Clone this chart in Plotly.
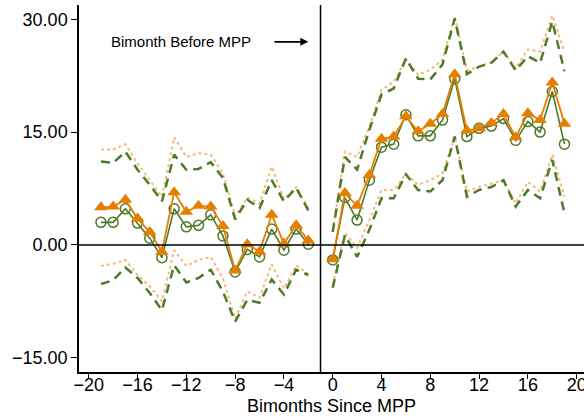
import plotly.graph_objects as go

# Bimonths relative to the MPP (the reference bimonth -1 is omitted)
bimonths = list(range(-19, 20))

# Estimates: green series (hollow circles) and its confidence band
est_green = [3.0, 3.0, 4.8, 2.9, 0.9, -1.7, 4.8, 2.4, 2.6, 4.0, 1.2, -3.6, -0.6, -1.6, 2.1, -0.7, 2.1, 0.1, None,
             -2.0, 6.3, 3.3, 8.6, 13.0, 13.4, 17.3, 14.5, 14.5, 16.6, 22.1, 14.4, 15.5, 15.8, 16.8, 13.9, 16.4, 15.0, 20.4, 13.4]
hi_green = [11.1, 10.9, 12.4, 10.0, 8.0, 5.8, 12.0, 10.0, 10.1, 11.0, 8.9, 3.4, 6.0, 4.9, 8.6, 5.8, 7.6, 4.6, None,
            1.7, 11.7, 10.0, 15.3, 20.0, 20.8, 24.8, 22.1, 22.0, 24.0, 30.1, 22.7, 23.7, 24.2, 25.7, 23.2, 25.1, 24.2, 29.7, 23.1]
lo_green = [-5.2, -4.7, -3.0, -4.4, -6.4, -8.7, -2.7, -5.0, -4.4, -3.3, -6.2, -10.2, -7.3, -7.7, -4.6, -6.6, -3.3, -4.0, None,
            -5.7, 1.3, -1.6, 2.0, 6.2, 6.2, 9.4, 7.3, 7.1, 8.6, 14.4, 6.4, 7.3, 7.7, 8.6, 5.1, 7.3, 6.2, 11.3, 4.2]

# Estimates: orange series (triangles) and its confidence band
est_orange = [5.0, 5.1, 6.0, 3.5, 1.7, -0.9, 7.0, 4.4, 5.2, 5.1, 2.5, -3.4, 0.1, -0.9, 4.0, 0.2, 2.6, 0.6, None,
              -1.9, 6.9, 5.2, 9.3, 14.1, 14.4, 17.1, 15.1, 16.1, 17.4, 22.7, 15.2, 15.5, 16.2, 17.4, 14.3, 17.5, 16.6, 21.6, 16.1]
hi_orange = [12.7, 12.7, 13.4, 10.8, 8.6, 6.4, 14.3, 11.7, 12.2, 12.0, 9.5, 3.8, 6.3, 5.5, 10.4, 6.1, 7.7, 4.9, None,
             1.9, 12.4, 11.7, 15.7, 20.6, 21.7, 24.7, 22.6, 23.3, 24.6, 30.4, 23.2, 23.7, 24.3, 25.7, 23.5, 26.0, 25.7, 30.5, 25.7]
lo_orange = [-2.8, -2.5, -2.0, -4.0, -5.5, -7.5, -0.7, -2.8, -2.0, -1.6, -4.5, -9.8, -6.2, -7.0, -2.6, -5.8, -2.7, -3.9, None,
             -5.3, 1.6, -0.4, 3.3, 7.3, 7.3, 9.4, 8.0, 8.6, 9.5, 14.4, 7.1, 7.7, 8.2, 8.6, 5.5, 8.4, 7.1, 12.0, 6.4]

x_ticks = list(range(-20, 21, 4))
y_ticks = [-15, 0, 15, 30]

GREEN = "#4e7a2a"
ORANGE = "#e67e00"
ORANGE_LIGHT = "#f6b978"
FONT = "Liberation Sans, Arial"

fig = go.Figure()

# confidence bands
for band in (hi_orange, lo_orange):
    fig.add_trace(go.Scatter(x=bimonths, y=band, mode="lines",
                             line=dict(color=ORANGE_LIGHT, width=2, dash="dot"),
                             connectgaps=False, showlegend=False, hoverinfo="skip"))
for band in (hi_green, lo_green):
    fig.add_trace(go.Scatter(x=bimonths, y=band, mode="lines",
                             line=dict(color=GREEN, width=2.5, dash="9px,6px"),
                             connectgaps=False, showlegend=False, hoverinfo="skip"))

# point estimates
fig.add_trace(go.Scatter(x=bimonths, y=est_green, mode="lines+markers",
                         line=dict(color=GREEN, width=1.6),
                         marker=dict(symbol="circle-open", size=10, color=GREEN, line=dict(width=1.5)),
                         connectgaps=False, showlegend=False))
fig.add_trace(go.Scatter(x=bimonths, y=est_orange, mode="lines+markers",
                         line=dict(color=ORANGE, width=1.8),
                         marker=dict(symbol="triangle-up", size=12, color=ORANGE),
                         connectgaps=False, showlegend=False))

# reference lines
fig.add_shape(type="line", xref="paper", yref="y", x0=0, x1=1, y0=0, y1=0,
              line=dict(color="black", width=1.5))
fig.add_shape(type="line", xref="x", yref="paper", x0=-1, x1=-1, y0=0, y1=1,
              line=dict(color="black", width=1.5))

# label with arrow pointing to the reference bimonth
fig.add_annotation(x=-12.4, y=27.0, xref="x", yref="y", text="Bimonth Before MPP",
                   showarrow=False, font=dict(family=FONT, size=15, color="black"))
fig.add_annotation(x=-2.0, y=27.0, ax=-4.9, ay=27.0, xref="x", yref="y", axref="x", ayref="y",
                   text="", showarrow=True, arrowhead=2, arrowsize=1, arrowwidth=1.6, arrowcolor="black")

# x-axis title
fig.add_annotation(x=0.5, y=0, xref="paper", yref="paper", yanchor="top", yshift=-22,
                   text="Bimonths Since MPP", showarrow=False,
                   font=dict(family=FONT, size=18, color="black"))

fig.update_layout(
    width=584, height=416,
    margin=dict(l=79, r=0, t=5, b=44),
    paper_bgcolor="white", plot_bgcolor="white",
    font=dict(family=FONT, size=18, color="black"),
    xaxis=dict(range=[-20.8, 20.6], tickvals=x_ticks, ticks="outside", ticklen=5,
               tickcolor="black", showline=True, linecolor="black", linewidth=1.5,
               showgrid=False, zeroline=False, automargin=False, ticklabeloverflow="allow",
               ticklabelstandoff=-9),
    yaxis=dict(range=[-16.9, 31.9], tickvals=y_ticks, tickformat=".2f", ticks="outside", ticklen=6,
               tickcolor="black", showline=True, linecolor="black", linewidth=1.5,
               showgrid=False, zeroline=False, automargin=False),
)

fig.write_html("out.html")
